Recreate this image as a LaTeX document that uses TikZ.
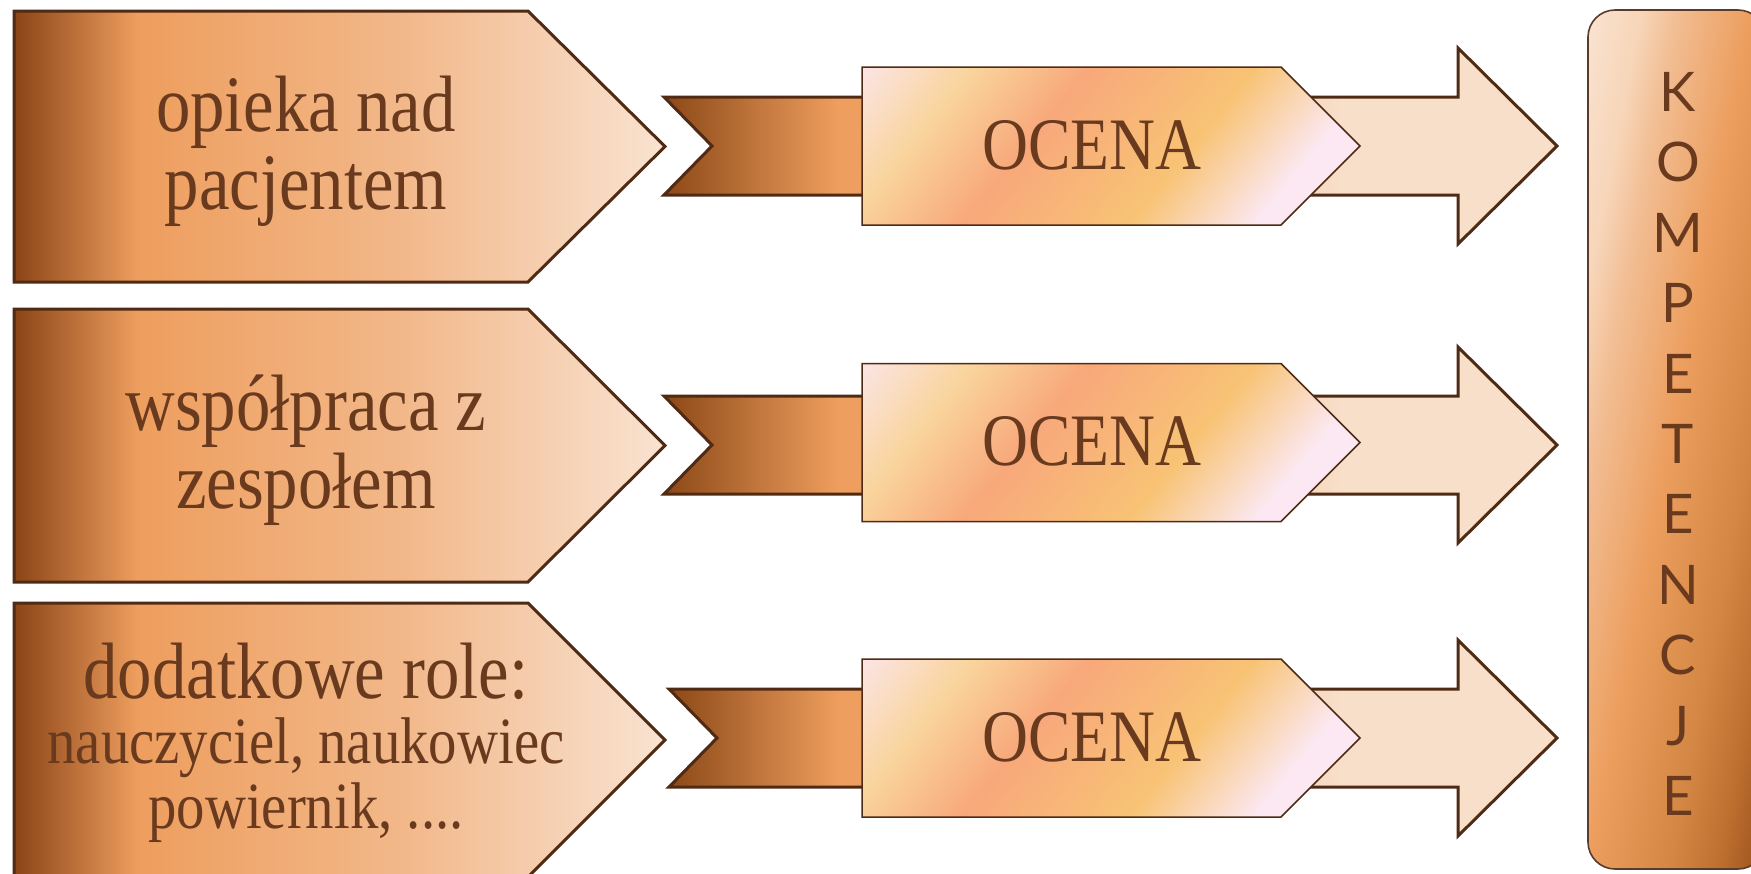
\documentclass[tikz,border=0pt]{standalone}
\usepackage{fontspec}
\newfontfamily\serifc[FakeStretch=0.86]{Liberation Serif}
\newfontfamily\komfont{Lato}
\definecolor{textbrown}{HTML}{6A3A1F}
\definecolor{strokebrown}{HTML}{4F2A14}
\definecolor{kstroke}{HTML}{5A3A2A}
\definecolor{pA}{HTML}{8A4416}
\definecolor{pB}{HTML}{EE9E5E}
\definecolor{pC}{HTML}{F2B88A}
\definecolor{pD}{HTML}{F9E3D1}
\definecolor{rA}{HTML}{8C4816}
\definecolor{rB}{HTML}{EE9E5E}
\definecolor{aA}{HTML}{F3CBA8}
\definecolor{aB}{HTML}{F8DFCA}
\definecolor{oP}{HTML}{FBE5E6}
\definecolor{oY}{HTML}{F9D49C}
\definecolor{oS}{HTML}{F8A87B}
\definecolor{oO}{HTML}{F8C375}
\definecolor{oQ}{HTML}{FBE8F2}
\definecolor{kA}{HTML}{F9E2CE}
\definecolor{kA2}{HTML}{F7D5B8}
\definecolor{kB}{HTML}{F2BE94}
\definecolor{kC}{HTML}{EC9E5E}
\definecolor{kD}{HTML}{D48644}
\definecolor{kD2}{HTML}{BE7030}
\definecolor{kE}{HTML}{9E541D}
\pgfdeclarehorizontalshading{pentshade}{100bp}{color(0bp)=(pA); color(25bp)=(pA); color(34.5bp)=(pB); color(55bp)=(pC); color(75bp)=(pD); color(100bp)=(pD)}
\pgfdeclarehorizontalshading{ribshade}{100bp}{color(0bp)=(rA); color(25bp)=(rA); color(68bp)=(rB); color(100bp)=(rB)}
\pgfdeclarehorizontalshading{arrshade}{100bp}{color(0bp)=(aA); color(25bp)=(aA); color(40bp)=(aB); color(100bp)=(aB)}
\pgfdeclarehorizontalshading{ocshade}{100bp}{color(0bp)=(oP); color(25bp)=(oP); color(34bp)=(oY); color(43.2bp)=(oS); color(56.5bp)=(oO); color(66.5bp)=(oQ); color(100bp)=(oQ)}
\pgfdeclarehorizontalshading{kshade}{100bp}{color(0bp)=(kA); color(26bp)=(kA); color(33bp)=(kA2); color(38bp)=(kB); color(49bp)=(kC); color(61bp)=(kD); color(68bp)=(kD2); color(74bp)=(kE); color(100bp)=(kE)}
\tikzset{
  pent/.style={draw=strokebrown, line width=1.5pt, shade, shading=pentshade, line join=miter},
  ribbon/.style={draw=strokebrown, line width=1.5pt, shade, shading=ribshade, line join=miter},
  bigarrow/.style={draw=strokebrown, line width=1.5pt, shade, shading=arrshade, line join=miter},
  ocbox/.style={draw=strokebrown, line width=0.75pt, line join=miter,
    path picture={\node[inner sep=0pt, outer sep=0pt, rotate=-39, xscale=4.86, yscale=3]
      at (path picture bounding box.center) {\pgfuseshading{ocshade}};}},
  kbox/.style={draw=kstroke, line width=0.8pt, rounded corners=13.5pt,
    path picture={\node[inner sep=0pt, outer sep=0pt, rotate=-10.8, xscale=3.342, yscale=5.5]
      at (path picture bounding box.center) {\pgfuseshading{kshade}};}},
  txt/.style={text=textbrown, inner sep=0pt, anchor=base, font=\serifc\fontsize{40}{39}\selectfont},
  octxt/.style={text=textbrown, inner sep=0pt, anchor=base, font=\serifc\fontsize{37}{40}\selectfont},
  ktxt/.style={text=textbrown, inner sep=0pt, anchor=base, font=\komfont\fontsize{27.3}{35.2}\selectfont}
}
\begin{document}
\begin{tikzpicture}[x=0.5pt, y=-0.5pt]
\useasboundingbox (0,0) rectangle (1751,873);
\clip (0,0) rectangle (1751,873);
% left pentagons
\path[pent] (14,11) -- (528,11) -- (665,146.5) -- (528,282) -- (14,282) -- cycle;
\path[pent] (14,309) -- (528,309) -- (665,445.5) -- (528,582) -- (14,582) -- cycle;
\path[pent] (14,603) -- (528,603) -- (665,740) -- (528,877) -- (14,877) -- cycle;
% rows: ribbon, arrow, OCENA box
\foreach \c/\b/\rl/\i in {146/146/664/1, 445/442.5/664/2, 738/738/669/3}{
  \path[ribbon] (\rl,\c-49) -- (866,\c-49) -- (866,\c+49) -- (\rl,\c+49) -- (\rl+48,\c) -- cycle;
  \path[bigarrow] (1250,\c-49) -- (1458,\c-49) -- (1458,\c-98) -- (1557,\c) -- (1458,\c+98) -- (1458,\c+49) -- (1250,\c+49) -- cycle;
  \path[ocbox] (862,\b-79) -- (1281,\b-79) -- (1360,\b) -- (1281,\b+79) -- (862,\b+79) -- cycle;
  \node[octxt] (oc\i) at (1092,\b+23) {OCENA};
}
% right box
\path[kbox] (1588,10) rectangle (1765,869);
\node[ktxt] (komp) at (1678,111.5) {\begin{tabular}[t]{@{}c@{}}K\\O\\M\\P\\E\\T\\E\\N\\C\\J\\E\end{tabular}};
% texts
\node[txt] (t1) at (306,131) {\begin{tabular}[t]{@{}c@{}}opieka nad\\pacjentem\end{tabular}};
\node[txt] (t2) at (306,430) {\begin{tabular}[t]{@{}c@{}}współpraca z\\zespołem\end{tabular}};
\node[txt, font=\serifc\fontsize{33}{32.5}\selectfont] (t3) at (306,698) {\begin{tabular}[t]{@{}c@{}}{\fontsize{40}{32.5}\selectfont dodatkowe role:}\\nauczyciel, naukowiec\\powiernik, ....\end{tabular}};
\end{tikzpicture}
\end{document}
